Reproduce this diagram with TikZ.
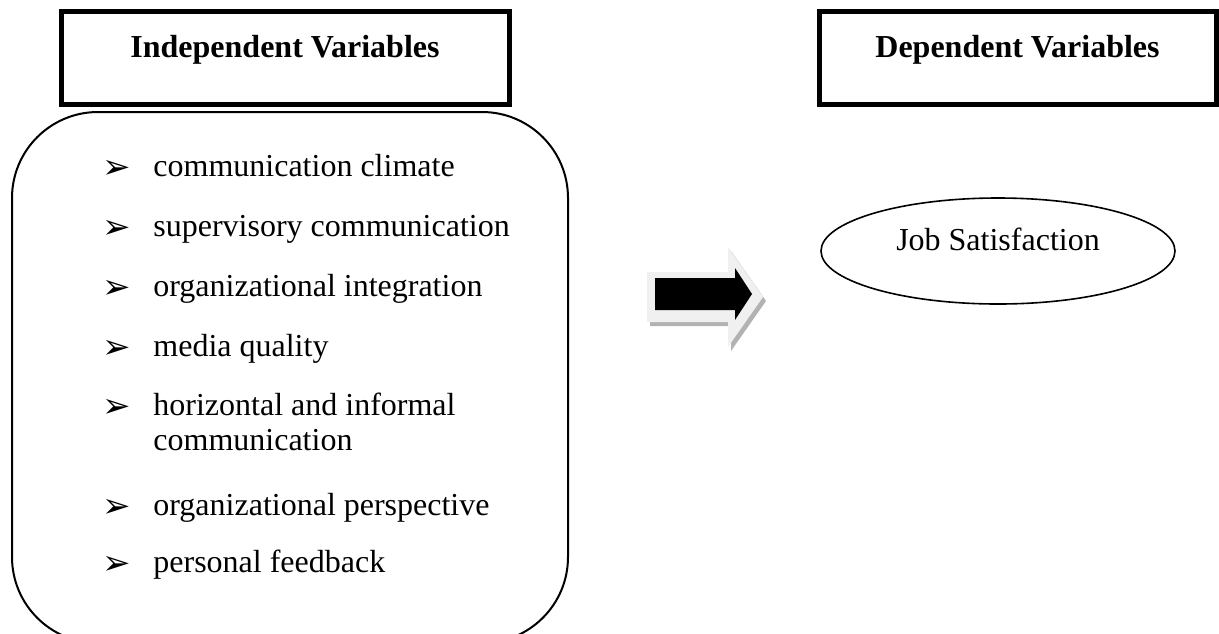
\documentclass[tikz,border=0pt]{standalone}
\usepackage{fontspec}
\setmainfont{Liberation Serif}
\newfontfamily\dingfont{DejaVu Sans}
\usetikzlibrary{positioning,shapes.geometric}
\tikzstyle{headbox}=[draw,line width=2.5pt,minimum height=46.5pt,inner sep=0pt]
\tikzstyle{headtext}=[font=\fontsize{16}{19}\selectfont\bfseries,inner sep=0pt]
\tikzstyle{itemtext}=[font=\fontsize{16}{19}\selectfont,anchor=base west,inner sep=0pt]
\tikzstyle{bullet}=[font=\dingfont\fontsize{17}{20}\selectfont,inner sep=0pt]
\tikzstyle{outcome}=[draw,ellipse,line width=0.8pt,minimum width=177pt,minimum height=53pt,inner sep=0pt]

\begin{document}
\begin{tikzpicture}[x=0.5pt,y=-0.5pt]
\useasboundingbox (0,0) rectangle (1219,633);
\begin{scope}
\clip (0,0) rectangle (1219,633);
% group of independent variables
\draw[line width=1pt,rounded corners=43pt] (12,112) rectangle (568,643);
\end{scope}
% headings
\node[headbox,minimum width=224pt] (indep) at (285,57.5) {};
\node[headtext,below=13pt of indep.north] (indeptext) {Independent Variables};
\node[headbox,minimum width=198.5pt] (dep) at (1017.5,57.5) {};
\node[headtext,below=13pt of dep.north] (deptext) {Dependent Variables};
% items
\foreach \y/\t [count=\i] in {176/communication climate,236/supervisory communication,
    296/organizational integration,356/media quality,415/horizontal and informal,
    515/organizational perspective,572/personal feedback}{
  \node[bullet] (b\i) at (117,\y-7) {➢};
  \node[itemtext] (i\i) at (153,\y) {\t};
}
\node[itemtext] (i5b) at (153,450) {communication};
% block arrow
\fill[black!30] (650,276) -- (731,276) -- (731,251) -- (766,301) -- (731,351) -- (731,326) -- (650,326) -- cycle;
\fill[black!6] (647,272) -- (728,272) -- (728,247) -- (763,297) -- (728,347) -- (728,322) -- (647,322) -- cycle;
\fill[black] (655,278) -- (735,278) -- (735,268) -- (752,294) -- (735,320) -- (735,310) -- (655,310) -- cycle;
% dependent variable
\node[outcome] (js) at (998,251) {};
\node[itemtext,anchor=base] (jstext) at (998,250) {Job Satisfaction};
\end{tikzpicture}
\end{document}
